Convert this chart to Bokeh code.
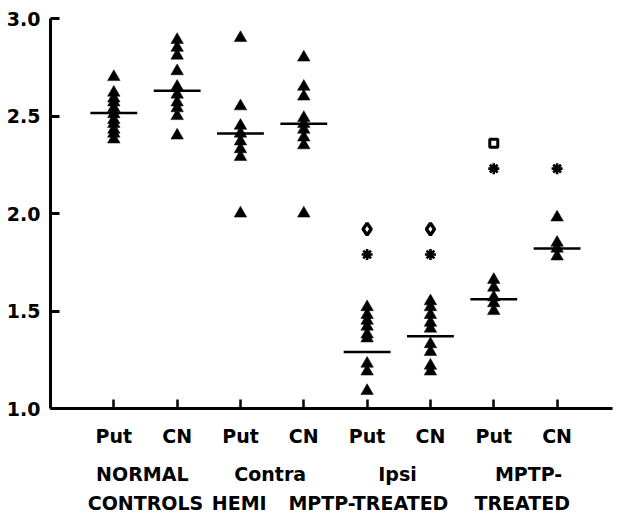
from bokeh.plotting import figure
from bokeh.models import Range1d, FixedTicker, LinearAxis, PrintfTickFormatter
from bokeh.embed import file_html
from bokeh.resources import INLINE

# ---- data ----
column_labels = ["Put", "CN", "Put", "CN", "Put", "CN", "Put", "CN"]
group_row1 = ["NORMAL", "Contra", "Ipsi", "MPTP-"]
group_row2 = ["CONTROLS", "HEMI", "MPTP-TREATED", "TREATED"]

normal_put = [2.70, 2.62, 2.59, 2.57, 2.54, 2.51, 2.48, 2.46, 2.43, 2.41, 2.38]
normal_cn = [2.89, 2.85, 2.81, 2.73, 2.65, 2.61, 2.57, 2.54, 2.50, 2.40]
contra_put = [2.90, 2.55, 2.45, 2.41, 2.37, 2.33, 2.29, 2.00]
contra_cn = [2.80, 2.65, 2.60, 2.49, 2.46, 2.43, 2.39, 2.35, 2.00]
ipsi_put = [1.52, 1.48, 1.45, 1.42, 1.38, 1.36, 1.23, 1.19, 1.09]
ipsi_cn = [1.55, 1.52, 1.48, 1.44, 1.41, 1.33, 1.29, 1.22, 1.19]
mptp_put = [1.66, 1.62, 1.57, 1.54, 1.50]
mptp_cn = [1.98, 1.85, 1.82, 1.78]

means = [2.515, 2.63, 2.41, 2.46, 1.29, 1.37, 1.56, 1.82]

star_cols = [4, 5, 6, 7]
star_vals = [1.79, 1.79, 2.23, 2.23]
diamond_cols = [4, 5]
diamond_vals = [1.92, 1.92]
square_cols = [6]
square_vals = [2.36]

y_ticks = [1.0, 1.5, 2.0, 2.5, 3.0]

# ---- style/layout constants ----
group_row1_pos = [0.45, 2.47, 4.48, 6.55]
group_row2_pos = [0.50, 1.98, 4.02, 6.45]
FONT = "DejaVu Sans"
FS = "19px"

triangle_series = [normal_put, normal_cn, contra_put, contra_cn,
                   ipsi_put, ipsi_cn, mptp_put, mptp_cn]
tx, ty = [], []
for i, vals in enumerate(triangle_series):
    tx += [i] * len(vals)
    ty += vals

p = figure(width=614, height=516, output_backend="svg", toolbar_location=None,
           x_range=Range1d(-1.0, 7.875), y_range=Range1d(1.0, 3.0),
           min_border_left=50, min_border_right=2, min_border_top=18,
           min_border_bottom=40)
p.outline_line_color = None
p.xgrid.visible = False
p.ygrid.visible = False
p.background_fill_color = "white"
p.border_fill_color = "white"

# triangles
p.scatter(x=tx, y=ty, marker="triangle", size=12.5, fill_color="black",
          line_color="black", line_width=0.5)
# stars
p.scatter(x=star_cols, y=star_vals, marker="asterisk", size=11,
          line_color="black", line_width=2.6)
# open diamonds
p.scatter(x=diamond_cols, y=diamond_vals, marker="diamond", size=12,
          fill_color="white", line_color="black", line_width=3.5)
# open square
p.scatter(x=square_cols, y=square_vals, marker="square", size=8,
          fill_color="white", line_color="black", line_width=3)

# mean lines
cols = list(range(len(means)))
p.segment(x0=[c - 0.37 for c in cols], x1=[c + 0.37 for c in cols],
          y0=means, y1=means, line_color="black", line_width=2.5)

# y axis
yax = p.yaxis[0]
yax.ticker = FixedTicker(ticks=y_ticks)
yax.formatter = PrintfTickFormatter(format="%.1f")
yax.minor_tick_line_color = None
yax.axis_line_width = 3
yax.major_tick_line_width = 3
yax.major_tick_in = 9
yax.major_tick_out = 0
yax.major_label_standoff = 10
yax.major_label_text_font = FONT
yax.major_label_text_font_style = "bold"
yax.major_label_text_font_size = FS
yax.major_label_text_color = "black"

# x axis
xax = p.xaxis[0]
xax.ticker = FixedTicker(ticks=cols)
xax.major_label_overrides = {i: lab for i, lab in enumerate(column_labels)}
xax.minor_tick_line_color = None
xax.axis_line_width = 3
xax.major_tick_line_width = 2.5
xax.major_tick_in = 9
xax.major_tick_out = 0
xax.major_label_standoff = 16
xax.major_label_text_font = FONT
xax.major_label_text_font_style = "bold"
xax.major_label_text_font_size = FS
xax.major_label_text_color = "black"

for pos, labs, standoff in [(group_row1_pos, group_row1, 13),
                            (group_row2_pos, group_row2, 4)]:
    ax = LinearAxis(ticker=FixedTicker(ticks=pos),
                    major_label_overrides={q: l for q, l in zip(pos, labs)})
    ax.axis_line_color = None
    ax.major_tick_line_color = None
    ax.minor_tick_line_color = None
    ax.major_tick_in = 0
    ax.major_tick_out = 0
    ax.major_label_standoff = standoff
    ax.major_label_text_font = FONT
    ax.major_label_text_font_style = "bold"
    ax.major_label_text_font_size = FS
    ax.major_label_text_color = "black"
    p.add_layout(ax, "below")

open("out.html", "w").write(file_html(p, INLINE))
